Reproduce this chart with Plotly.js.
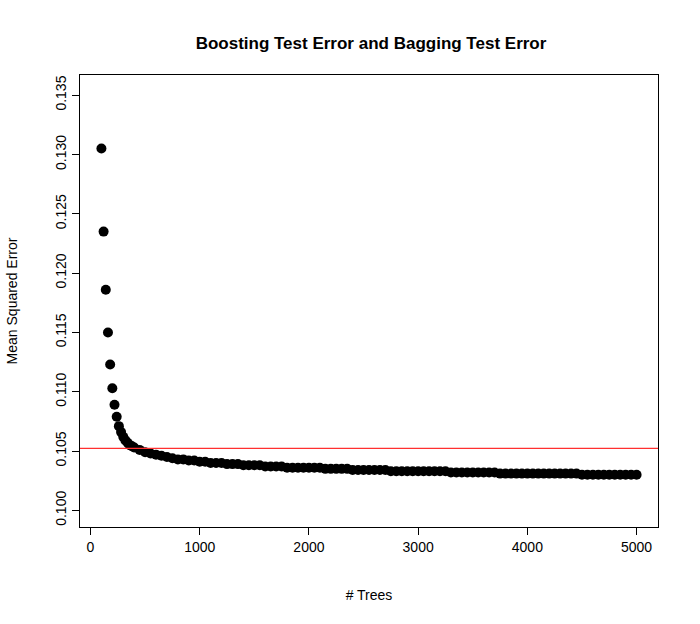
<!DOCTYPE html>
<html>
<head>
<meta charset="utf-8">
<script src="https://cdn.plot.ly/plotly-3.0.1.min.js"></script>
<style>body{margin:0;background:#fff}#chart{width:700px;height:624px}</style>
</head>
<body>
<div id="chart"></div>
<script>
// number of trees and boosting test error
var trees = [100,120,140,160,180,200,220,240,260,280,300,320,340,360,380,
  400,450,500,550,600,650,700,750,800,850,900,950,1000,
  1050,1100,1150,1200,1250,1300,1350,1400,1450,1500,1550,1600,1650,1700,1750,1800,1850,1900,1950,2000,
  2050,2100,2150,2200,2250,2300,2350,2400,2450,2500,2550,2600,2650,2700,2750,2800,2850,2900,2950,3000,
  3050,3100,3150,3200,3250,3300,3350,3400,3450,3500,3550,3600,3650,3700,3750,3800,3850,3900,3950,4000,
  4050,4100,4150,4200,4250,4300,4350,4400,4450,4500,4550,4600,4650,4700,4750,4800,4850,4900,4950,5000];
var boostErr = [0.1305,0.1235,0.1186,0.1150,0.1123,0.1103,0.1089,0.1079,0.1071,0.1066,0.1062,0.1059,0.1057,0.1055,0.1054,
  0.1053,0.1051,0.1049,0.1048,0.1047,0.1046,0.1045,0.1044,0.1043,0.1043,0.1042,0.1042,0.1041,
  0.1041,0.1040,0.1040,0.1040,0.1039,0.1039,0.1039,0.1038,0.1038,0.1038,0.1038,0.1037,0.1037,0.1037,0.1037,0.1036,0.1036,0.1036,0.1036,0.1036,
  0.1036,0.1036,0.1035,0.1035,0.1035,0.1035,0.1035,0.1034,0.1034,0.1034,0.1034,0.1034,0.1034,0.1034,0.1033,0.1033,0.1033,0.1033,0.1033,0.1033,
  0.1033,0.1033,0.1033,0.1033,0.1033,0.1032,0.1032,0.1032,0.1032,0.1032,0.1032,0.1032,0.1032,0.1032,0.1031,0.1031,0.1031,0.1031,0.1031,0.1031,
  0.1031,0.1031,0.1031,0.1031,0.1031,0.1031,0.1031,0.1031,0.1031,0.1030,0.1030,0.1030,0.1030,0.1030,0.1030,0.1030,0.1030,0.1030,0.1030,0.1030];
var baggingErr = 0.10523;
var yTicks = [0.100,0.105,0.110,0.115,0.120,0.125,0.130,0.135];
var yTickText = ['0.100','0.105','0.110','0.115','0.120','0.125','0.130','0.135'];
var xTicks = [0,1000,2000,3000,4000,5000];

var data = [{
  x: trees, y: boostErr, type: 'scatter', mode: 'markers',
  marker: {color: 'black', size: 10}, hoverinfo: 'x+y'
}];

var axisStyle = {
  showgrid: false, zeroline: false, showline: true, mirror: true,
  linecolor: 'black', linewidth: 1, ticks: 'outside', ticklen: 7,
  tickcolor: 'black', tickfont: {size: 14, color: 'black'}
};

var layout = {
  width: 700, height: 624,
  margin: {l: 80, r: 42, t: 75, b: 97},
  paper_bgcolor: 'white', plot_bgcolor: 'white',
  font: {family: 'Liberation Sans, Arial, sans-serif', color: 'black'},
  showlegend: false,
  title: {text: '<b>Boosting Test Error and Bagging Test Error</b>', font: {size: 17}, x: 0.53, y: 0.94},
  xaxis: Object.assign({}, axisStyle, {
    range: [-96, 5196], tickvals: xTicks,
    title: {text: '# Trees', font: {size: 14}, standoff: 36}
  }),
  yaxis: Object.assign({}, axisStyle, {
    range: [0.0986, 0.1367], tickvals: yTicks, ticktext: yTickText, tickangle: -90,
    title: {text: 'Mean Squared Error', font: {size: 14}, standoff: 32}
  }),
  shapes: [{
    type: 'line', xref: 'paper', x0: 0, x1: 1, yref: 'y', y0: baggingErr, y1: baggingErr,
    line: {color: '#ff3030', width: 1.3}
  }]
};

Plotly.newPlot('chart', data, layout, {displayModeBar: false});
</script>
</body>
</html>
